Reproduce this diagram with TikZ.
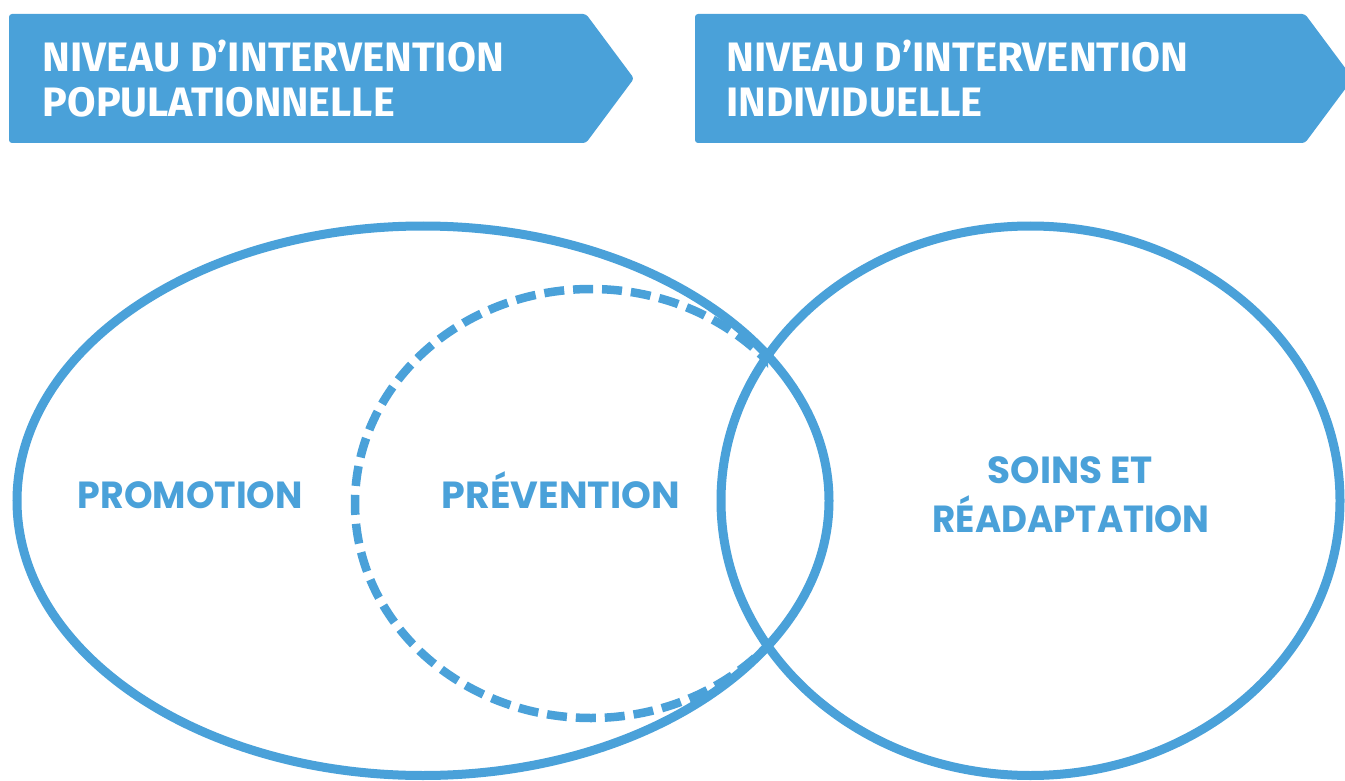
\documentclass[tikz,border=0pt]{standalone}
\usepackage{fontspec}
\usepackage{graphicx}
\newfontfamily\bannerfont{Fira Sans Bold}
\newfontfamily\labfont{Poppins Bold}
\definecolor{brandblue}{HTML}{4AA1D9}
\newcommand{\fitcaps}[4]{\resizebox{#1pt}{#2pt}{#3\smash{#4}\vphantom{X}}}
\tikzset{
  bannertext/.style={anchor=base west, inner sep=0pt, text=white},
  labeltext/.style={anchor=base west, inner sep=0pt, text=brandblue},
  ring/.style={draw=brandblue, line width=9pt},
  dashring/.style={draw=brandblue, line width=8.5pt, dash pattern=on 20pt off 8.96pt, dash phase=24.5pt},
  bannershape/.style={fill=brandblue, rounded corners=3pt},
}
\begin{document}
\begin{tikzpicture}[x=1pt,y=-1pt]
\useasboundingbox (0,0) rectangle (1345,781);
\fill[white] (0,0) rectangle (1345,781);

% banners
\path[bannershape] (9,14) -- (586,14) -- (634,78.5) -- (586,143) -- (9,143) -- cycle;
\path[bannershape] (695,14) -- (1305,14) -- (1353,78.5) -- (1305,143) -- (695,143) -- cycle;

\node[bannertext] (b1a) at (42.5,72) {\fitcaps{461}{28.5}{\bannerfont}{NIVEAU D’INTERVENTION}};
\node[bannertext] (b1b) at (42.5,117) {\fitcaps{352}{28.5}{\bannerfont}{POPULATIONNELLE}};
\node[bannertext] (b2a) at (726.5,72) {\fitcaps{462}{28.5}{\bannerfont}{NIVEAU D’INTERVENTION}};
\node[bannertext] (b2b) at (726.5,117) {\fitcaps{256}{28.5}{\bannerfont}{INDIVIDUELLE}};

% circles
\draw[ring] (423,500.75) ellipse [x radius=406pt, y radius=274.75pt];
\draw[ring] (1030.5,500.75) ellipse [x radius=309.5pt, y radius=274.75pt];
\begin{scope}
  \clip (0,0) rectangle (768,781);
  \draw[dashring] (591,503.5) ellipse [x radius=236pt, y radius=214.5pt];
\end{scope}

% labels
\node[labeltext] (promo) at (77.5,508) {\fitcaps{225}{26.5}{\labfont}{PROMOTION}};
\node[labeltext] (prev) at (441.5,508) {\fitcaps{238}{26.5}{\labfont}{PRÉVENTION}};
\node[labeltext] (soins) at (987.5,483) {\fitcaps{165}{26.5}{\labfont}{SOINS ET}};
\node[labeltext] (readapt) at (932.5,532) {\fitcaps{277}{26.5}{\labfont}{RÉADAPTATION}};
\end{tikzpicture}
\end{document}
